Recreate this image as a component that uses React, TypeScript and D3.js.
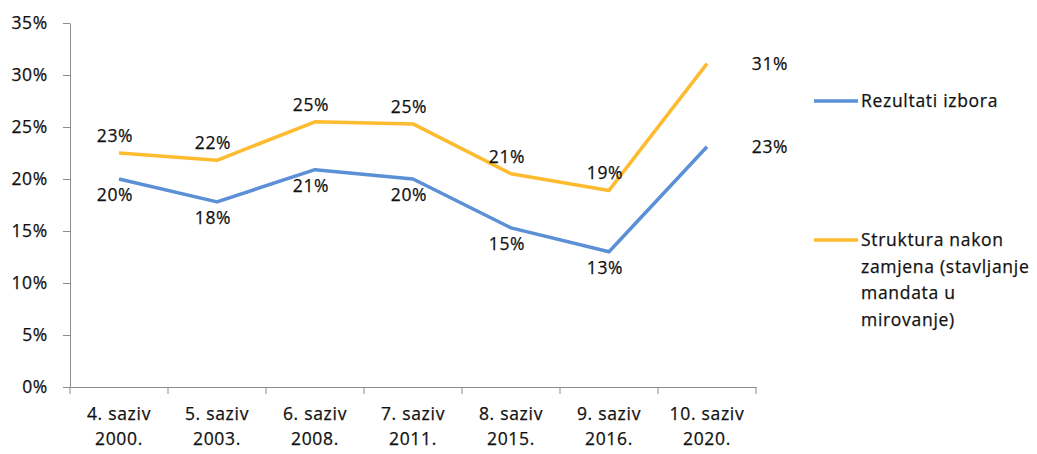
import React, { useEffect, useRef } from 'react';
import * as d3 from 'd3';

const categories = ['4. saziv|2000.', '5. saziv|2003.', '6. saziv|2008.', '7. saziv|2011.', '8. saziv|2015.', '9. saziv|2016.', '10. saziv|2020.'];
const rezultati = [20.0, 17.8, 20.9, 20.0, 15.3, 13.0, 23.1];
const struktura = [22.5, 21.8, 25.5, 25.3, 20.5, 18.9, 31.1];
const rezultatiLabels = ['20%', '18%', '21%', '20%', '15%', '13%', '23%'];
const strukturaLabels = ['23%', '22%', '25%', '25%', '21%', '19%', '31%'];
const yTicks = [0, 5, 10, 15, 20, 25, 30, 35];

const BLUE = '#5b8fd6';
const ORANGE = '#fdbb30';
const FONT = '"Open Sans", Lato, sans-serif';

export default function App() {
  const ref = useRef<SVGSVGElement>(null);

  useEffect(() => {
    const svg = d3.select(ref.current);
    svg.selectAll('*').remove();
    const margin = { top: 23, left: 70, right: 281, bottom: 67 };
    const width = 1037, height = 454;

    const x = d3.scaleBand<string>()
      .domain(categories)
      .range([margin.left, width - margin.right]);
    const y = d3.scaleLinear().domain([0, 35]).range([height - margin.bottom, margin.top]);
    const cx = (c: string) => (x(c) as number) + x.bandwidth() / 2;

    const textStyle = (sel: any) => sel
      .attr('fill', '#111')
      .attr('stroke', '#111')
      .attr('stroke-width', 0.25)
      .style('font-family', FONT)
      .style('font-size', '17.5px')
      .style('letter-spacing', '0.7px');

    // y axis
    const yAxis = svg.append('g')
      .attr('transform', `translate(${margin.left},0)`)
      .call(d3.axisLeft(y).tickValues(yTicks).tickSize(7).tickSizeOuter(0).tickFormat(d => `${d}%`));
    yAxis.select('.domain').attr('stroke', '#8c8c8c');
    yAxis.selectAll('.tick line').attr('stroke', '#8c8c8c');
    yAxis.selectAll('.tick text').attr('x', -22).call(textStyle);

    // x axis
    const xAxis = svg.append('g')
      .attr('transform', `translate(0,${y(0)})`)
      .call(d3.axisBottom(x).tickSize(0).tickSizeOuter(0).tickFormat(() => ''));
    xAxis.select('.domain').attr('stroke', '#8c8c8c');
    const edges = [...categories.map(c => x(c) as number), width - margin.right];
    xAxis.selectAll('line.edge').data(edges).enter().append('line')
      .attr('class', 'edge')
      .attr('x1', d => d).attr('x2', d => d)
      .attr('y1', 0).attr('y2', 7)
      .attr('stroke', '#8c8c8c');
    const catText = svg.append('g').selectAll('text').data(categories).enter().append('text')
      .attr('text-anchor', 'middle')
      .call(textStyle);
    catText.each(function (d) {
      const parts = d.split('|');
      const t = d3.select(this);
      parts.forEach((p, i) => {
        t.append('tspan').attr('x', cx(d)).attr('y', y(0) + 33 + i * 25).text(p);
      });
    });

    const line = d3.line<number>()
      .x((_, i) => cx(categories[i]))
      .y(d => y(d));

    const series = [
      { values: rezultati, labels: rezultatiLabels, color: BLUE, dy: 22 },
      { values: struktura, labels: strukturaLabels, color: ORANGE, dy: -11 },
    ];

    series.forEach(s => {
      svg.append('path')
        .datum(s.values)
        .attr('fill', 'none')
        .attr('stroke', s.color)
        .attr('stroke-width', 3.5)
        .attr('stroke-linejoin', 'round')
        .attr('d', line);
      svg.append('g').selectAll('text').data(s.values).enter().append('text')
        .attr('x', (_, i) => i === s.values.length - 1 ? cx(categories[i]) + 63 : cx(categories[i]) - 4)
        .attr('y', (d, i) => i === s.values.length - 1 ? y(d) + 6 : y(d) + s.dy)
        .attr('text-anchor', 'middle')
        .call(textStyle)
        .text((_, i) => s.labels[i]);
    });

    // legend
    const legend = [
      { lines: ['Rezultati izbora'], color: BLUE, y: 101 },
      { lines: ['Struktura nakon', 'zamjena (stavljanje', 'mandata u', 'mirovanje)'], color: ORANGE, y: 240 },
    ];
    legend.forEach(l => {
      svg.append('line')
        .attr('x1', 814).attr('x2', 858)
        .attr('y1', l.y).attr('y2', l.y)
        .attr('stroke', l.color).attr('stroke-width', 3.5);
      const t = svg.append('text').call(textStyle);
      l.lines.forEach((ln, i) => {
        t.append('tspan').attr('x', 861).attr('y', l.y + 6 + i * 26.5).text(ln);
      });
    });
  }, []);

  return (
    <svg ref={ref} width={1037} height={454}
      style={{ position: 'absolute', left: 0, top: 0, background: '#fff' }} />
  );
}
